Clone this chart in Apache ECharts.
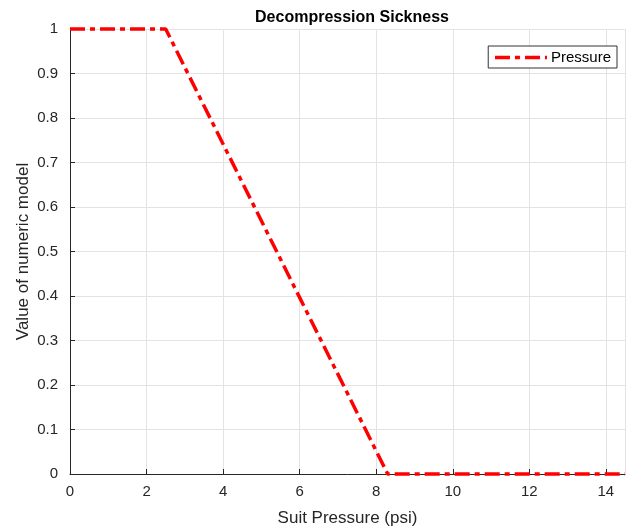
<!DOCTYPE html>
<html>
<head>
<meta charset="utf-8" />
<title>Decompression Sickness</title>
<script src="https://cdn.jsdelivr.net/npm/echarts@6/dist/echarts.min.js"></script>
<style>html,body{margin:0;padding:0;background:#fff;}</style>
</head>
<body>
<div id="main" style="width:626px;height:531px;"></div>
<script type="text/javascript">
    // suit pressure (psi) and model value
    var pressurePsi = [0, 2.5, 8.3, 14.5];
    var modelValue = [1, 1, 0, 0];
    var seriesName = 'Pressure';

    var points = [];
    for (var i = 0; i < pressurePsi.length; i++) {
        points.push([pressurePsi[i], modelValue[i]]);
    }

    var axisColor = '#262626';
    var font = 'Helvetica, Arial, "Liberation Sans", sans-serif';
    var myChart = echarts.init(document.getElementById('main'));
    var option = {
        animation: false,
        title: {
            text: 'Decompression Sickness',
            left: 347, top: 5, textAlign: 'center',
            textStyle: { fontFamily: font, fontSize: 16, fontWeight: 'bold', color: '#000' }
        },
        legend: {
            right: 9, top: 46,
            orient: 'vertical',
            itemWidth: 52, itemHeight: 16, itemGap: 0,
            padding: [4, 6, 3, 5],
            borderColor: '#333', borderWidth: 1, borderRadius: 0,
            backgroundColor: '#fff',
            itemStyle: { opacity: 0 },
            lineStyle: { width: 3.5 },
            textStyle: { fontFamily: font, fontSize: 15, color: '#000', padding: [0, 0, 0, -1] },
            data: [seriesName]
        },
        grid: { left: 70, right: 1, top: 29, bottom: 57, containLabel: false, outerBoundsMode: 'none' },
        xAxis: {
            type: 'value', min: 0, max: 14.5, interval: 2,
            name: 'Suit Pressure (psi)', nameLocation: 'middle', nameGap: 36,
            nameMoveOverlap: false,
            nameTextStyle: { fontFamily: font, fontSize: 17, color: axisColor },
            axisLine: { lineStyle: { color: axisColor } },
            axisTick: { show: true, inside: true, length: 5, lineStyle: { color: axisColor } },
            axisLabel: { fontFamily: font, fontSize: 15, color: axisColor, margin: 10, showMaxLabel: false },
            splitLine: { show: true, lineStyle: { color: '#e3e3e3' } }
        },
        yAxis: {
            type: 'value', min: 0, max: 1, interval: 0.1,
            name: 'Value of numeric model', nameLocation: 'middle', nameGap: 38,
            nameMoveOverlap: false,
            nameTextStyle: { fontFamily: font, fontSize: 17, color: axisColor },
            axisLine: { show: true, lineStyle: { color: axisColor } },
            axisTick: { show: true, inside: true, length: 5, lineStyle: { color: axisColor } },
            axisLabel: { fontFamily: font, fontSize: 15, color: axisColor, margin: 12,
                formatter: function (v) { return Math.round(v * 10) / 10 + ''; } },
            splitLine: { show: true, lineStyle: { color: '#e3e3e3' } }
        },
        series: [{
            name: seriesName,
            type: 'line',
            data: points,
            symbol: 'none',
            clip: false,
            itemStyle: { color: '#ff0000' },
            lineStyle: { color: '#ff0000', width: 3.5, type: [15, 5, 5, 5] }
        }]
    };
    myChart.setOption(option);
</script>
</body>
</html>
